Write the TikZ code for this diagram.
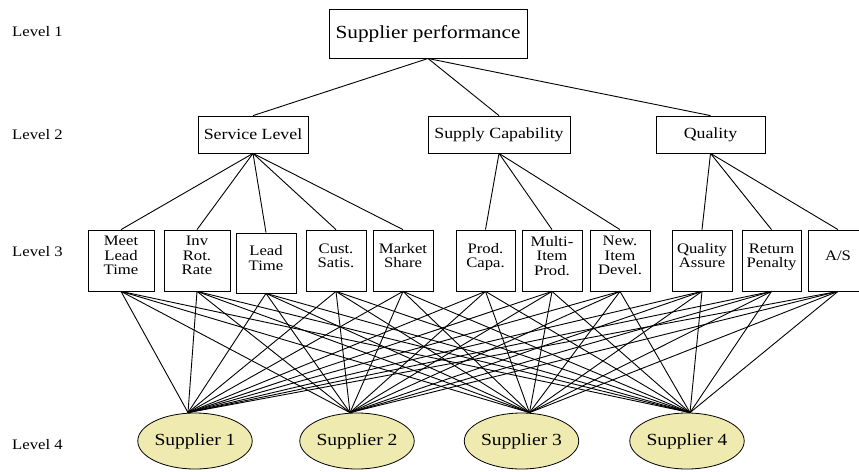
\documentclass[tikz,border=0pt]{standalone}
\usepackage{fontspec}
\setmainfont{Liberation Serif}[FakeStretch=1.15]
\usetikzlibrary{shapes.geometric,calc}
\definecolor{suppfill}{RGB}{238,234,176}
\newcommand\leaffont{\fontsize{14.5}{14.5}\selectfont\lineskiplimit=-20pt\relax}
\begin{document}
\begin{tikzpicture}[x=1pt,y=-1pt,
  lvl/.style={anchor=west, inner sep=0pt, font=\fontsize{14.5}{16}\selectfont},
  topbox/.style={draw, line width=1pt, minimum width=198pt, minimum height=49pt, inner sep=0pt, font=\fontsize{18.5}{20}\selectfont},
  midbox/.style={draw, line width=0.8pt, minimum height=37pt, inner sep=0pt, font=\fontsize{15.5}{17}\selectfont},
  leafbox/.style={draw, line width=0.8pt, minimum width=60pt, minimum height=61pt, inner sep=0pt, align=center, text depth=10pt, font=\leaffont},
  supp/.style={ellipse, draw, line width=0.8pt, fill=suppfill, minimum width=100pt, minimum height=56pt, inner sep=0pt, font=\fontsize{17}{19}\selectfont},
  link/.style={line width=0.9pt}
]
\useasboundingbox (0,0) rectangle (859,471);
% level labels
\node[lvl] (l1) at (12,31.5) {Level 1};
\node[lvl] (l2) at (12,135) {Level 2};
\node[lvl] (l3) at (12,252) {Level 3};
\node[lvl] (l4) at (12,445) {Level 4};
% level 1
\node[topbox] (sp) at (428,33.5) {Supplier performance};
% level 2
\node[midbox, minimum width=110pt] (sl) at (253,134.5) {Service Level};
\node[midbox, minimum width=142pt] (sc) at (499,134.5) {Supply Capability};
\node[midbox, minimum width=109pt] (q)  at (710.5,134.5) {Quality};
% level 3
\node[leafbox, minimum width=66pt] (mlt) at (121,260.5) {Meet\\Lead\\Time};
\node[leafbox, minimum width=66pt] (irr) at (197,260.5) {Inv\\Rot.\\Rate};
\node[leafbox, minimum height=60pt] (lt) at (266,263) {Lead\\Time};
\node[leafbox] (cs)  at (336,260.5) {Cust.\\Satis.};
\node[leafbox] (ms)  at (403,260.5) {Market\\Share};
\node[leafbox, minimum width=59pt] (pc)  at (485.5,260.5) {Prod.\\Capa.};
\node[leafbox] (mip) at (552,260.5) {Multi-\\Item\\Prod.};
\node[leafbox] (nid) at (620,260.5) {New.\\Item\\Devel.};
\node[leafbox] (qa)  at (702,260.5) {Quality\\Assure};
\node[leafbox, minimum width=59pt] (rp)  at (771.5,260.5) {Return\\Penalty};
\node[leafbox] (as)  at (838,260.5) {A/S};
% level 4
\node[supp] (s1) at (195,441) {Supplier 1};
\node[supp] (s2) at (357,441) {Supplier 2};
\node[supp] (s3) at (521.5,441) {Supplier 3};
\node[supp] (s4) at (687,441) {Supplier 4};
\coordinate (t1) at ($(s1.north)+(-7,0)$);
\coordinate (t2) at ($(s2.north)+(-7,0)$);
\coordinate (t3) at ($(s3.north)+(8,0)$);
\coordinate (t4) at ($(s4.north)+(3,0)$);
% connectors
\foreach \b in {sl,sc,q} \draw[link] (sp.south) -- (\b.north);
\foreach \b in {mlt,irr,lt,cs,ms} \draw[link] (sl.south) -- (\b.north);
\foreach \b in {pc,mip,nid} \draw[link] (sc.south) -- (\b.north);
\foreach \b in {qa,rp,as} \draw[link] (q.south) -- (\b.north);
\foreach \b in {mlt,irr,lt,cs,ms,pc,mip,nid,qa,rp,as}
  \foreach \s in {t1,t2,t3,t4}
    \draw[link] (\b.south) -- (\s);
\end{tikzpicture}
\end{document}
